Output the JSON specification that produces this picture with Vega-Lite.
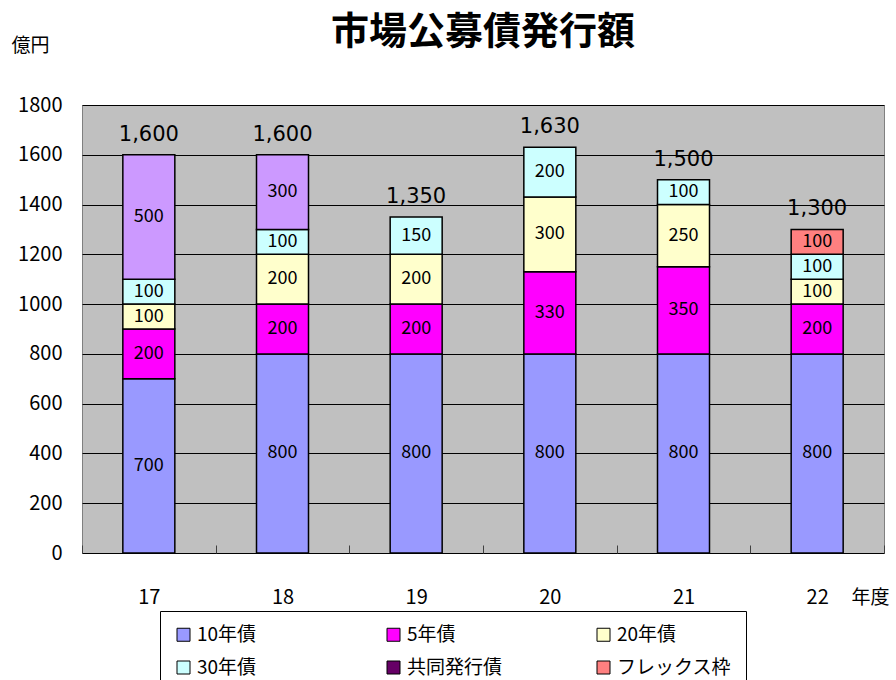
{
  "$schema": "https://vega.github.io/schema/vega-lite/v6.json",
  "width": 802,
  "height": 448,
  "autosize": "none",
  "padding": {"left": 82, "top": 105, "right": 12, "bottom": 127},
  "background": "white",
  "config": {
    "view": {"fill": "#C0C0C0", "stroke": "#808080", "strokeWidth": 1},
    "font": "Noto Sans CJK JP"
  },
  "title": {
    "text": "市場公募債発行額",
    "fontSize": 38,
    "fontWeight": "bold",
    "font": "Noto Sans CJK JP",
    "anchor": "middle",
    "offset": -16,
    "color": "black"
  },
  "datasets": {
    "bonds": [
      {"year": "17", "series": "10年債", "value": 700, "ord": 1},
      {"year": "17", "series": "5年債", "value": 200, "ord": 2},
      {"year": "17", "series": "20年債", "value": 100, "ord": 3},
      {"year": "17", "series": "30年債", "value": 100, "ord": 4},
      {"year": "17", "series": "その他", "value": 500, "ord": 5},
      {"year": "18", "series": "10年債", "value": 800, "ord": 1},
      {"year": "18", "series": "5年債", "value": 200, "ord": 2},
      {"year": "18", "series": "20年債", "value": 200, "ord": 3},
      {"year": "18", "series": "30年債", "value": 100, "ord": 4},
      {"year": "18", "series": "その他", "value": 300, "ord": 5},
      {"year": "19", "series": "10年債", "value": 800, "ord": 1},
      {"year": "19", "series": "5年債", "value": 200, "ord": 2},
      {"year": "19", "series": "20年債", "value": 200, "ord": 3},
      {"year": "19", "series": "30年債", "value": 150, "ord": 4},
      {"year": "20", "series": "10年債", "value": 800, "ord": 1},
      {"year": "20", "series": "5年債", "value": 330, "ord": 2},
      {"year": "20", "series": "20年債", "value": 300, "ord": 3},
      {"year": "20", "series": "30年債", "value": 200, "ord": 4},
      {"year": "21", "series": "10年債", "value": 800, "ord": 1},
      {"year": "21", "series": "5年債", "value": 350, "ord": 2},
      {"year": "21", "series": "20年債", "value": 250, "ord": 3},
      {"year": "21", "series": "30年債", "value": 100, "ord": 4},
      {"year": "22", "series": "10年債", "value": 800, "ord": 1},
      {"year": "22", "series": "5年債", "value": 200, "ord": 2},
      {"year": "22", "series": "20年債", "value": 100, "ord": 3},
      {"year": "22", "series": "30年債", "value": 100, "ord": 4},
      {"year": "22", "series": "フレックス枠", "value": 100, "ord": 7}
    ],
    "totals": [
      {"year": "17", "total": 1600},
      {"year": "18", "total": 1600},
      {"year": "19", "total": 1350},
      {"year": "20", "total": 1630},
      {"year": "21", "total": 1500},
      {"year": "22", "total": 1300}
    ]
  },
  "layer": [
    {
      "data": {"name": "bonds"},
      "mark": {"type": "bar", "stroke": "black", "strokeWidth": 1.5, "width": 52},
      "encoding": {
        "x": {
          "field": "year",
          "type": "ordinal",
          "scale": {"paddingInner": 0, "paddingOuter": 0},
          "axis": {
            "title": "年度",
            "titleX": 788,
            "titleY": 44,
            "titleAlign": "center",
            "titleBaseline": "middle",
            "titleFontSize": 19,
            "titleFontWeight": "normal",
            "titleFont": "Noto Sans CJK JP",
            "titleColor": "black",
            "labelAngle": 0,
            "labelFont": "Noto Sans CJK JP",
            "labelFontSize": 20,
            "labelColor": "black",
            "labelPadding": 42,
            "tickBand": "extent",
            "tickSize": -8,
            "tickColor": "#404040",
            "domain": false,
            "grid": false
          }
        },
        "y": {
          "field": "value",
          "type": "quantitative",
          "stack": "zero",
          "scale": {"domain": [0, 1800], "nice": false},
          "axis": {
            "values": [0, 200, 400, 600, 800, 1000, 1200, 1400, 1600, 1800],
            "format": "d",
            "title": "億円",
            "titleAngle": 0,
            "titleX": -52,
            "titleY": -60,
            "titleAlign": "center",
            "titleBaseline": "middle",
            "titleFontSize": 19,
            "titleFontWeight": "normal",
            "titleFont": "Noto Sans CJK JP",
            "titleColor": "black",
            "labelFont": "Noto Sans CJK JP",
            "labelFontSize": 20,
            "labelColor": "black",
            "labelPadding": 20,
            "ticks": false,
            "domain": false,
            "grid": true,
            "gridColor": "black",
            "gridWidth": 1
          }
        },
        "color": {
          "field": "series",
          "type": "nominal",
          "scale": {
            "domain": ["10年債", "5年債", "20年債", "30年債", "その他", "共同発行債", "フレックス枠"],
            "range": ["#9999FF", "#FF00FF", "#FFFFCC", "#CCFFFF", "#CC99FF", "#660066", "#FF8080"]
          },
          "legend": {
            "values": ["10年債", "5年債", "20年債", "30年債", "共同発行債", "フレックス枠"],
            "orient": "none",
            "legendX": 78,
            "legendY": 506,
            "direction": "horizontal",
            "columns": 3,
            "gridAlign": "all",
            "columnPadding": 72,
            "rowPadding": 13,
            "title": null,
            "symbolType": "square",
            "symbolSize": 169,
            "symbolStrokeColor": "black",
            "symbolStrokeWidth": 1,
            "symbolOpacity": 1,
            "labelFont": "Noto Sans CJK JP",
            "labelFontSize": 19,
            "labelColor": "black",
            "labelLimit": 200,
            "labelOffset": 4,
            "strokeColor": "black",
            "fillColor": "white",
            "padding": 14
          }
        },
        "order": {"field": "ord", "type": "quantitative"}
      }
    },
    {
      "data": {"name": "bonds"},
      "mark": {
        "type": "text",
        "font": "Noto Sans CJK JP",
        "fontSize": 18,
        "color": "black",
        "baseline": "middle"
      },
      "encoding": {
        "x": {"field": "year", "type": "ordinal"},
        "y": {"field": "value", "type": "quantitative", "stack": "zero", "bandPosition": 0.5},
        "text": {"field": "value", "type": "quantitative"},
        "detail": {"field": "series"},
        "order": {"field": "ord", "type": "quantitative"}
      }
    },
    {
      "data": {"name": "totals"},
      "mark": {
        "type": "text",
        "font": "DejaVu Sans",
        "fontSize": 21,
        "color": "black",
        "baseline": "bottom",
        "dy": -10
      },
      "encoding": {
        "x": {"field": "year", "type": "ordinal"},
        "y": {"field": "total", "type": "quantitative"},
        "text": {"field": "total", "type": "quantitative", "format": ",.0f"}
      }
    }
  ]
}
